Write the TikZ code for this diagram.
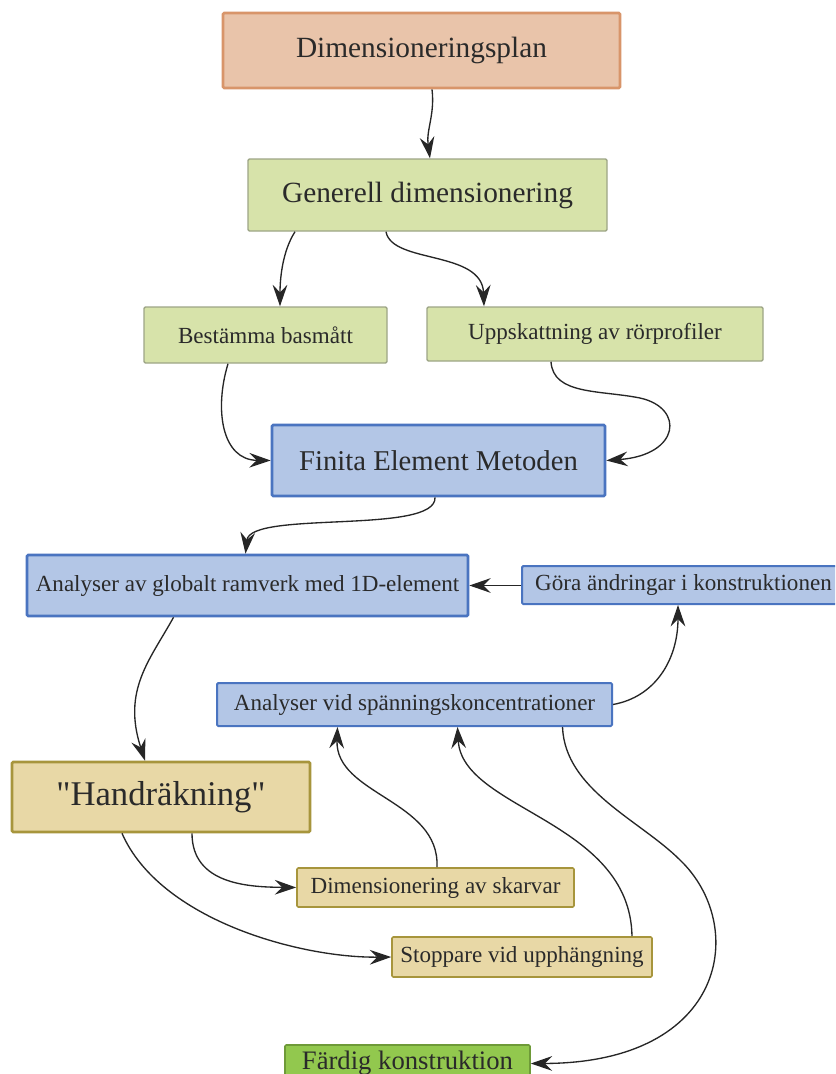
\documentclass[tikz,border=0pt]{standalone}
\usepackage{fontspec}
\setmainfont{Liberation Serif}[Ligatures=TeXOff]
\usetikzlibrary{arrows.meta,calc}
\definecolor{peachF}{HTML}{E9C4AA}
\definecolor{peachD}{HTML}{D8956A}
\definecolor{greenF}{HTML}{D7E3AA}
\definecolor{greenD}{HTML}{9DA586}
\definecolor{blueF}{HTML}{B3C6E6}
\definecolor{blueD}{HTML}{4A74C0}
\definecolor{tanF}{HTML}{E8D8A6}
\definecolor{tanD}{HTML}{A7953C}
\definecolor{doneF}{HTML}{92C84E}
\definecolor{doneD}{HTML}{6E9A38}
\definecolor{txt}{HTML}{2A2A2A}
\begin{document}
\begin{tikzpicture}[x=0.75pt,y=-0.75pt,
  box/.style={rectangle, inner sep=0pt, text=txt, align=center, rounded corners=1pt},
  sz/.style 2 args={minimum width=#1*0.75pt, minimum height=#2*0.75pt},
  peachbox/.style={box, fill=peachF, draw=peachD, line width=2pt},
  greenbox/.style={box, fill=greenF, draw=greenD, line width=1.1pt},
  bluebox/.style={box, fill=blueF, draw=blueD, line width=2pt},
  bluethin/.style={box, fill=blueF, draw=blueD, line width=1.5pt},
  tanbox/.style={box, fill=tanF, draw=tanD, line width=1.2pt},
  tanthick/.style={box, fill=tanF, draw=tanD, line width=2pt},
  donebox/.style={box, fill=doneF, draw=doneD, line width=1.2pt},
  big/.style={font=\fontsize{22}{26}\selectfont},
  small/.style={font=\fontsize{17.3}{20}\selectfont},
  conn/.style={draw=black!85, line width=1pt, -{Stealth[length=16pt,width=11pt,inset=5.5pt]}}
]
\clip (0,0) rectangle (835,1074);
\fill[white] (0,0) rectangle (835,1074);

\node[peachbox, big, sz={397}{75}] (plan) at (421.5,50.5) {Dimensioneringsplan};
\node[greenbox, big, sz={359}{72}] (gen) at (427.5,195) {Generell dimensionering};
\node[greenbox, small, sz={243}{56}] (best) at (265.5,335) {Bestämma basmått};
\node[greenbox, small, sz={336}{54}] (upp) at (595,334) {Uppskattning av rörprofiler};
\node[bluebox, font=\fontsize{21.5}{25}\selectfont, sz={333}{71}] (fem) at (438.5,460.5) {Finita Element Metoden};
\node[bluebox, small, sz={441}{61}] (glob) at (247.5,585.5) {Analyser av globalt ramverk med 1D-element};
\node[bluethin, small, sz={323}{38}] (gora) at (683.5,585) {Göra ändringar i konstruktionen};
\node[bluethin, small, sz={395}{43}] (vid) at (414.5,704.5) {Analyser vid spänningskoncentrationer};
\node[tanthick, font=\fontsize{26}{30}\selectfont, sz={298}{70}] (hand) at (161,797) {"Handräkning"};
\node[tanbox, small, sz={277}{39}] (skarv) at (435.5,887.5) {Dimensionering av skarvar};
\node[tanbox, small, sz={260}{40}] (stop) at (522,957) {Stoppare vid upphängning};
\node[donebox, font=\fontsize{20}{24}\selectfont, sz={245}{37}] (fard) at (407.5,1063.5) {Färdig konstruktion};

% connectors
\draw[conn] ($(plan.south)+(10.5,0)$) .. controls (435,115) and (426,130) .. ($(gen.north)+(2.5,0)$);
\draw[conn] ($(gen.south)+(-132.5,0)$) .. controls (282,252) and (280,280) .. ($(best.north)+(14.5,0)$);
\draw[conn] ($(gen.south)+(-41.5,0)$) .. controls (392,264) and (482,250) .. ($(upp.north)+(-111,0)$);
\draw[conn] ($(best.south)+(-37.5,0)$) .. controls (214,410) and (222,460) .. (fem.west);
\draw[conn] ($(upp.south)+(-44,0)$) .. controls (553,395) and (600,390) .. (640,398)
  .. controls (685,408) and (680,455) .. (fem.east);
\draw[conn] ($(fem.south)+(-3.5,0)$) .. controls (437,535) and (250,510) .. ($(glob.north)+(-2,0)$);
\draw[conn] (gora.west |- glob.east) -- (glob.east);
\draw[conn] (vid.east) .. controls (655,697) and (678,660) .. ($(gora.south)+(-5.5,0)$);
\draw[conn] ($(glob.south)+(-74,0)$) .. controls (150,660) and (122,690) .. ($(hand.north)+(-16,0)$);
\draw[conn] ($(hand.south)+(31,0)$) .. controls (192,885) and (250,887) .. (skarv.west);
\draw[conn] ($(hand.south)+(-39,0)$) .. controls (160,920) and (300,958) .. (stop.west);
\draw[conn] ($(skarv.north)+(1.5,0)$) .. controls (440,800) and (335,795) .. ($(vid.south)+(-77,0)$);
\draw[conn] ($(stop.north)+(110,0)$) .. controls (630,820) and (462,810) .. ($(vid.south)+(43,0)$);
\draw[conn] ($(vid.south)+(148,0)$) .. controls (565,790) and (640,820) .. (680,860)
  .. controls (748,925) and (728,1063) .. (fard.east);
\end{tikzpicture}
\end{document}
